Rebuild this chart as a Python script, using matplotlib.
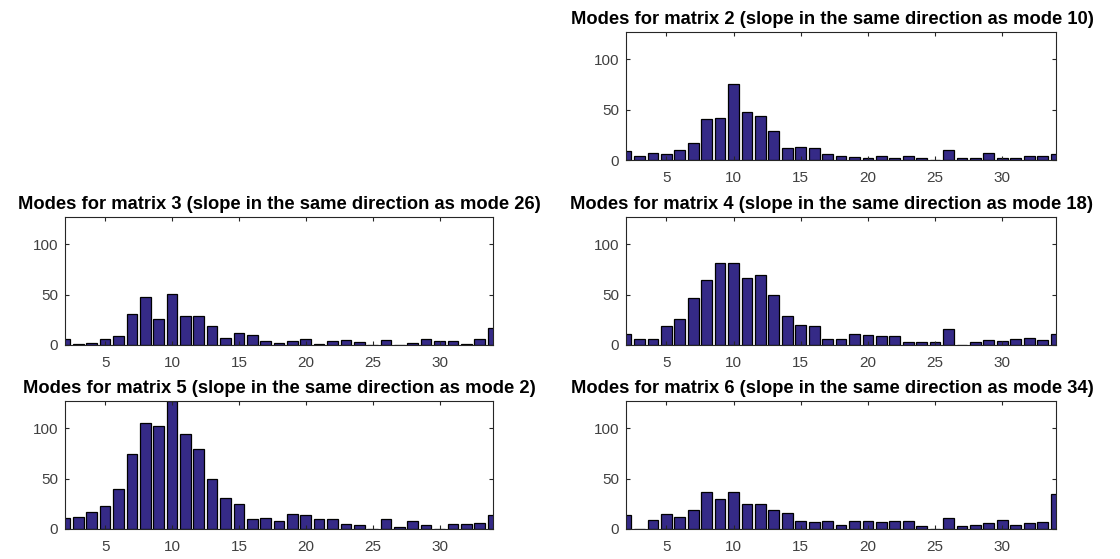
import matplotlib
matplotlib.use("Agg")
import matplotlib.pyplot as plt
import numpy as np

plt.rcParams['font.family'] = ['Liberation Sans', 'DejaVu Sans']

modes = list(range(2, 35))

matrix2 = [9, 4, 7, 6, 9.5, 17, 40.5, 41.5, 75, 48, 44, 29, 12, 13, 12, 5.5, 4, 3,
           1.5, 4, 2, 4, 2, 0, 9.5, 2, 2, 7, 2, 2, 4, 4, 5.5]
matrix3 = [6, 1, 2, 6, 8.5, 31, 48, 26, 50.5, 28.5, 28.5, 18.5, 7, 12, 10, 3.5, 2, 3.5,
           6, 1, 3.5, 5, 2.5, 0, 5, 0, 2, 6, 3.5, 3.5, 1, 6, 17]
matrix4 = [11, 6, 6, 18.5, 26, 47, 64.5, 81.5, 81.5, 66, 69, 49.5, 28.5, 19.5, 18.5, 6, 6,
           11, 9.5, 8.5, 8.5, 2.5, 2.5, 2.5, 15.5, 0, 2.5, 5, 3.5, 6, 7, 5, 11]
matrix5 = [10.5, 12, 17, 23, 39.5, 74, 105, 102.5, 127, 94, 79, 50, 31, 25, 9.5, 11, 7.5,
           15, 13.5, 9.5, 9.5, 4.5, 3.5, 0, 9.5, 2, 7.5, 3.5, 0, 4.5, 4.5, 6, 14]
matrix6 = [14, 0, 9, 14.5, 12, 19, 37, 29.5, 37, 24.5, 24.5, 19, 15.5, 8, 6.5, 8, 4, 8,
           8, 6.5, 8, 8, 2.5, 0, 10.5, 2.5, 4, 5.5, 9, 4, 5.5, 6.5, 34.5]

panels = [
    (2, 10, matrix2),
    (3, 26, matrix3),
    (4, 18, matrix4),
    (5, 2, matrix5),
    (6, 34, matrix6),
]

W, H = 1120, 559
fig = plt.figure(figsize=(W / 100, H / 100), dpi=100)

left_x, right_x = 65, 626
left_w, right_w = 428, 430
ax_h = 128
tops = [32, 217, 401]
positions = [
    (right_x, right_w, tops[0], 0.479),
    (left_x, left_w, tops[1], 0.5),
    (right_x, right_w, tops[1], 0.479),
    (left_x, left_w, tops[2], 0.5),
    (right_x, right_w, tops[2], 0.479),
]

bar_color = '#352A87'
axis_color = '#262626'
tick_color = '#404040'

for (num, ref, vals), (x0, w, top, tx) in zip(panels, positions):
    ax = fig.add_axes([x0 / W, 1 - (top + ax_h) / H, w / W, ax_h / H])
    ax.bar(modes, vals, width=0.8, color=bar_color, edgecolor='black', linewidth=0.9)
    ax.set_xlim(2, 34)
    ax.set_ylim(0, 127)
    ax.set_xticks([5, 10, 15, 20, 25, 30])
    ax.set_yticks([0, 50, 100])
    ax.tick_params(direction='in', top=True, right=True, length=3, width=0.8,
                   labelsize=11, labelcolor=tick_color, color=axis_color, pad=5)
    ax.tick_params(axis='x', pad=8)
    for s in ax.spines.values():
        s.set_color(axis_color)
        s.set_linewidth(0.8)
    ax.set_title(f"Modes for matrix {num} (slope in the same direction as mode {ref})",
                 fontsize=13.2, fontweight='bold', color='black', pad=6, x=tx)

fig.savefig('out.png', dpi=100)
